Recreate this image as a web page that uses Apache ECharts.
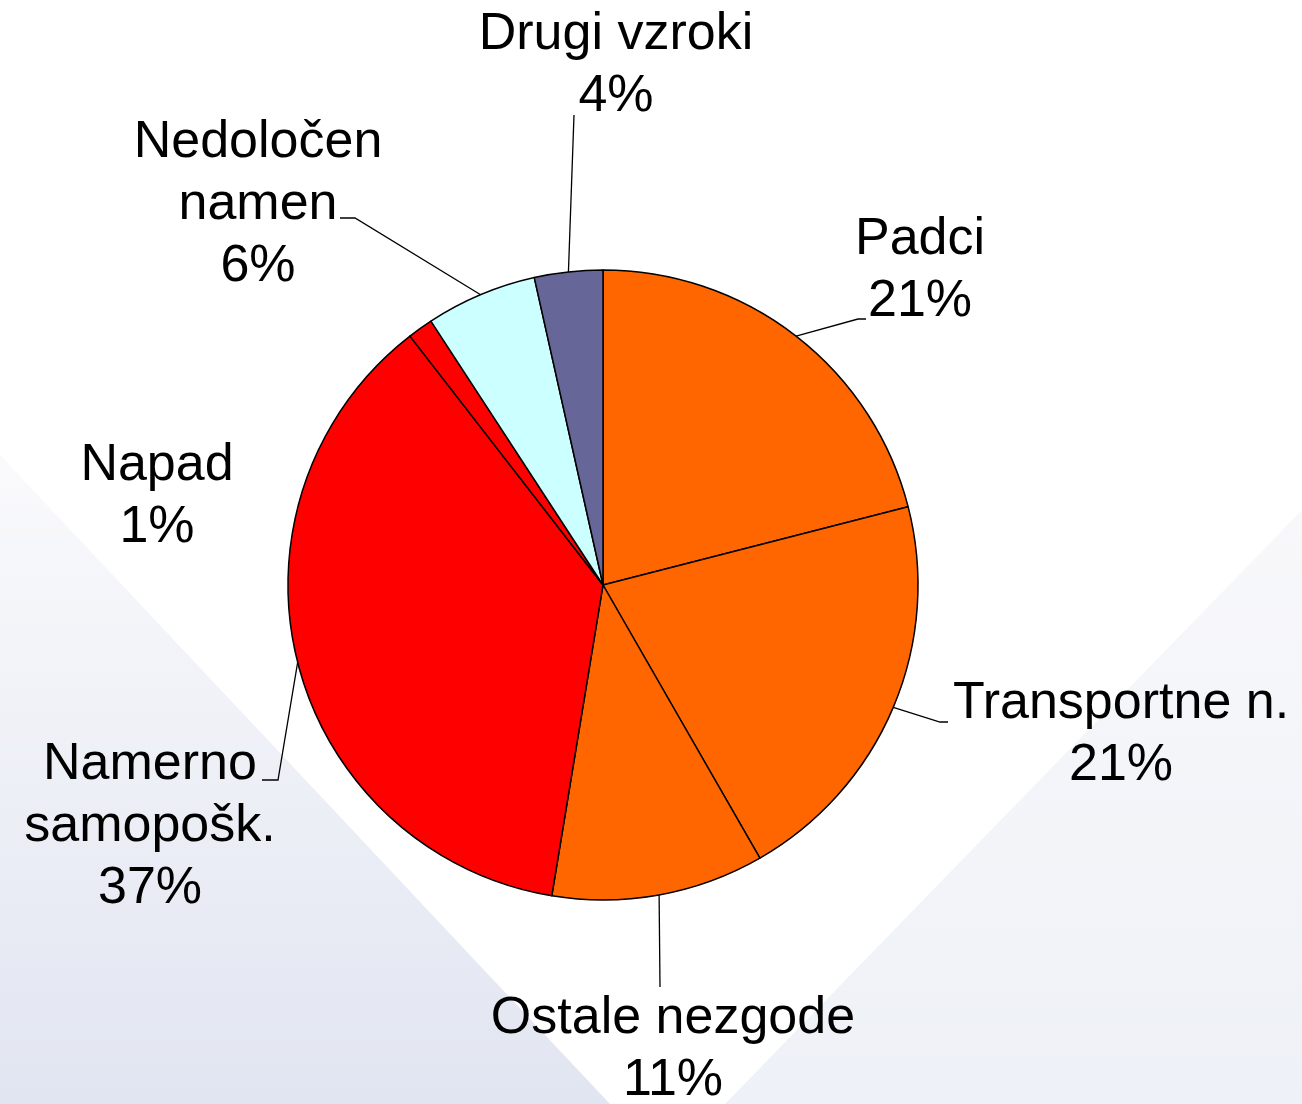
<!DOCTYPE html>
<html>
<head>
<meta charset="utf-8">
<style>
  html, body { margin: 0; padding: 0; background: #fff; }
  #chart { width: 1302px; height: 1104px; }
</style>
<script src="https://cdn.jsdelivr.net/npm/echarts@6/dist/echarts.min.js"></script>
</head>
<body>
<div id="chart"></div>
<script>
// data (share of injuries, %)
const categories = [
  'Padci',
  'Transportne n.',
  'Ostale nezgode',
  'Namerno\nsamopošk.',
  'Napad',
  'Nedoločen\nnamen',
  'Drugi vzroki'
]
const shares = [21.0, 20.7, 10.9, 36.9, 1.3, 5.7, 3.5]

// styling, kept apart from the data
const sliceColors = ['#FF6600', '#FF6600', '#FF6600', '#FF0000', '#FF0000', '#CCFFFF', '#666699']
const pieCenter = [603, 585]
const pieRadius = 315
// where each label block sits (center of the text block)
const labelSpots = [
  [920, 271],
  [1121, 735],
  [673, 1050],
  [150, 827],
  [157, 497],
  [258, 205],
  [616, 66]
]
// leader line end, relative to the label spot, plus the short horizontal hook
const leaderEnds = [
  [-54, 48, -8],
  [-173, -13, -8],
  [-13, -63, 0],
  [112, -47, 16],
  null,
  [82, 13, 15],
  [-42, 49, 0]
]

const total = shares.reduce((a, b) => a + b, 0)

// point on the rim at the middle of a slice (fallback if the library gives none)
function rimPoint(idx) {
  let before = 0
  for (let i = 0; i < idx; i++) before += shares[i]
  const a = ((before + shares[idx] / 2) / total) * Math.PI * 2
  return [pieCenter[0] + pieRadius * Math.sin(a), pieCenter[1] - pieRadius * Math.cos(a)]
}

const chart = echarts.init(document.getElementById('chart'))

chart.setOption({
  backgroundColor: '#ffffff',
  animation: false,
  graphic: [
    {
      type: 'polygon',
      z: -10,
      shape: { points: [[0, 455], [610, 1104], [0, 1104]] },
      style: {
        fill: new echarts.graphic.LinearGradient(0, 0, 0, 1, [
          { offset: 0, color: '#fafafc' },
          { offset: 1, color: '#e1e5f1' }
        ])
      }
    },
    {
      type: 'polygon',
      z: -10,
      shape: { points: [[1302, 510], [725, 1104], [1302, 1104]] },
      style: {
        fill: new echarts.graphic.LinearGradient(0, 0, 0, 1, [
          { offset: 0, color: '#f8f8fb' },
          { offset: 1, color: '#eef1f7' }
        ])
      }
    }
  ],
  series: [
    {
      type: 'pie',
      center: pieCenter,
      radius: pieRadius,
      startAngle: 90,
      clockwise: true,
      avoidLabelOverlap: false,
      itemStyle: {
        borderColor: '#000',
        borderWidth: 1.5
      },
      label: {
        show: true,
        position: 'outside',
        color: '#000',
        fontFamily: 'Liberation Sans, Arial, sans-serif',
        fontSize: 52,
        lineHeight: 62,
        formatter: p => p.name + '\n' + Math.round(p.percent) + '%'
      },
      labelLine: {
        show: true,
        length: 20,
        length2: 14,
        lineStyle: { color: '#000', width: 1.3 }
      },
      labelLayout: params => {
        const i = params.dataIndex
        const spot = labelSpots[i]
        const out = {
          x: spot[0],
          y: spot[1],
          align: 'center',
          verticalAlign: 'middle'
        }
        const lead = leaderEnds[i]
        if (lead) {
          const start = params.labelLinePoints && params.labelLinePoints[0]
            ? params.labelLinePoints[0]
            : rimPoint(i)
          const end = [spot[0] + lead[0], spot[1] + lead[1]]
          const mid = [end[0] + lead[2], end[1]]
          out.labelLinePoints = [start, mid, end]
        }
        return out
      },
      emphasis: { disabled: true },
      data: categories.map((name, i) => ({
        name,
        value: shares[i],
        itemStyle: { color: sliceColors[i] },
        labelLine: { show: leaderEnds[i] !== null }
      }))
    }
  ]
})
</script>
</body>
</html>
